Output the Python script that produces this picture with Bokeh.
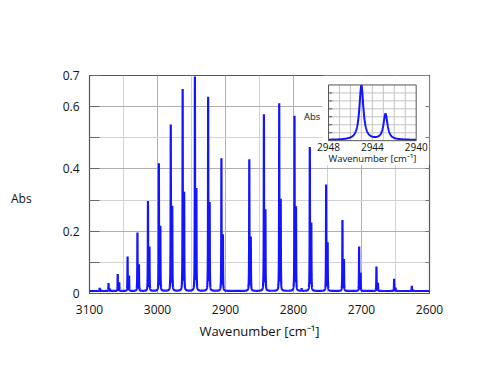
import numpy as np
from bokeh.plotting import figure
from bokeh.models import Range1d, FixedTicker, LinearAxis
from bokeh.embed import file_html
from bokeh.resources import INLINE
from bokeh.core.properties import value

# ---- data (HCl fundamental band) ----
# R branch: line centres (cm-1), H35Cl peak absorbance, H37Cl peak absorbance
r_pos = [3085.0, 3072.0, 3058.5, 3044.0, 3029.5, 3014.0, 2998.0, 2980.5, 2963.0, 2945.0, 2925.5, 2906.0]
r_abs = [0.018, 0.033, 0.062, 0.118, 0.195, 0.295, 0.416, 0.540, 0.653, 0.693, 0.629, 0.432]
r_iso = [0.010, 0.015, 0.035, 0.056, 0.092, 0.148, 0.213, 0.276, 0.320, 0.332, 0.287, 0.186]
# P branch
p_pos = [2865.0, 2843.5, 2821.0, 2798.5, 2776.0, 2752.0, 2728.0, 2703.5, 2678.0, 2652.0, 2626.0]
p_abs = [0.429, 0.573, 0.608, 0.568, 0.468, 0.348, 0.235, 0.150, 0.086, 0.047, 0.024]
p_iso = [0.179, 0.265, 0.298, 0.274, 0.223, 0.161, 0.108, 0.065, 0.033, 0.018, 0.011]
# weak extra feature
other_pos = [2788.0]
other_abs = [0.016]
iso_shift = 2.2       # H37Cl line offset (cm-1)
line_hwhm = 0.22      # half width (cm-1)
baseline = 0.008

x_tick_vals = [3100, 3000, 2900, 2800, 2700, 2600]
x_tick_labels = ["3100", "3000", "2900", "2800", "2700", "2600"]
y_tick_vals = [0, 0.2, 0.4, 0.6, 0.7]
y_tick_labels = ["0", "0.2", "0.4", "0.6", "0.7"]
inset_tick_vals = [2948, 2944, 2940]
inset_tick_labels = ["2948", "2944", "2940"]

# ---- spectrum from the read line list ----
centres = r_pos + p_pos + [c - iso_shift for c in r_pos + p_pos] + other_pos
heights = r_abs + p_abs + r_iso + p_iso + other_abs
centres = np.array(centres)
heights = np.array(heights) - baseline


def spectrum(wn):
    d = wn[:, None] - centres[None, :]
    return baseline + (heights[None, :] * line_hwhm ** 2 / (d ** 2 + line_hwhm ** 2)).sum(axis=1)


wn_main = np.arange(2600.0, 3100.0001, 0.05)
ab_main = spectrum(wn_main)
wn_ins = np.arange(2940.0, 2948.0001, 0.02)
ab_ins = spectrum(wn_ins)

FONT = "Open Sans"
BLUE = "#1414ff"

p = figure(width=484, height=359, x_range=Range1d(3100, 2600), y_range=Range1d(0, 0.7),
           output_backend="svg", toolbar_location=None,
           min_border_left=89, min_border_right=55, min_border_top=75, min_border_bottom=66)
p.background_fill_color = "white"
p.border_fill_color = "white"
p.outline_line_color = "#555555"
p.outline_line_width = 1.2

# x axis
xa = p.xaxis[0]
xa.ticker = FixedTicker(ticks=x_tick_vals)
xa.major_label_overrides = {v: s for v, s in zip(x_tick_vals, x_tick_labels)}
xa.axis_line_color = None
xa.major_tick_line_color = None
xa.minor_tick_line_color = None
xa.major_label_text_font = FONT
xa.major_label_text_font_size = "12px"
xa.major_label_text_color = "#111111"
xa.major_label_standoff = 5
xa.axis_label = "Wavenumber [cm\u207b\u00b9]"
xa.axis_label_text_font = FONT
xa.axis_label_text_font_size = "13px"
xa.axis_label_text_font_style = "normal"
xa.axis_label_text_color = "#111111"
xa.axis_label_standoff = 5

# y axis
ya = p.yaxis[0]
ya.ticker = FixedTicker(ticks=y_tick_vals, minor_ticks=[0.1, 0.3, 0.5])
ya.major_label_overrides = {v: s for v, s in zip(y_tick_vals, y_tick_labels)}
ya.axis_line_color = None
ya.major_tick_in = 10
ya.major_tick_out = 0
ya.minor_tick_in = 10
ya.minor_tick_out = 0
ya.major_tick_line_color = "#666666"
ya.minor_tick_line_color = "#666666"
ya.major_label_text_font = FONT
ya.major_label_text_font_size = "12px"
ya.major_label_text_color = "#111111"
ya.major_label_standoff = 10
# blank lines push the horizontal label below the frame centre, as in the reference
ya.axis_label = "\n\nAbs"
ya.axis_label_orientation = "horizontal"
ya.axis_label_text_font = FONT
ya.axis_label_text_font_size = "12px"
ya.axis_label_text_font_style = "normal"
ya.axis_label_text_color = "#111111"
ya.axis_label_text_line_height = 0.8
ya.axis_label_standoff = 28

ra = LinearAxis(ticker=FixedTicker(ticks=[0.1, 0.2, 0.3, 0.4, 0.5, 0.6]),
                major_label_overrides={v: "" for v in [0.1, 0.2, 0.3, 0.4, 0.5, 0.6]},
                axis_line_color=None, major_tick_in=4, major_tick_out=0,
                major_tick_line_color="#777777", minor_tick_line_color=None)
p.add_layout(ra, "right")

p.xgrid.ticker = FixedTicker(ticks=[3000, 2900, 2800, 2700], minor_ticks=[3050, 2950, 2850, 2750, 2650])
p.xgrid.grid_line_color = "#b0b0b0"
p.xgrid.minor_grid_line_color = "#d2d2d2"
p.ygrid.ticker = FixedTicker(ticks=[0.2, 0.4, 0.6], minor_ticks=[0.1, 0.3, 0.5])
p.ygrid.grid_line_color = "#b0b0b0"
p.ygrid.minor_grid_line_color = "#d2d2d2"

# white panel behind the inset
p.quad(left=[2757], right=[2600], top=[0.7], bottom=[0.413], fill_color="white", line_color=None)

# main spectrum
p.line(wn_main, ab_main, line_color=BLUE, line_width=2.2)

# ---- inset (zoom on the 2944 cm-1 doublet) ----
sub = p.subplot(x_source=Range1d(2948, 2940), y_source=Range1d(0, 0.7),
                x_target=Range1d(2748.5, 2619.6), y_target=Range1d(0.4907, 0.6696))
gx = [2947, 2946, 2945, 2944, 2943, 2942, 2941]
gy = [0.1, 0.2, 0.3, 0.4, 0.5, 0.6]
sub.segment(x0=gx, y0=[0] * len(gx), x1=gx, y1=[0.7] * len(gx), line_color="#c4c4c4", line_width=1)
sub.segment(x0=[2948] * len(gy), y0=gy, x1=[2940] * len(gy), y1=gy, line_color="#c4c4c4", line_width=1)
sub.segment(x0=[2948] * len(gy), y0=gy, x1=[2947.65] * len(gy), y1=gy, line_color="#555555", line_width=1)
sub.line(wn_ins, ab_ins, line_color=BLUE, line_width=2)
sub.quad(left=[2948], right=[2940], top=[0.7], bottom=[0], fill_color=None,
         line_color="#555555", line_width=1)
sub.text(x=inset_tick_vals, y=[-0.085] * 3, text=inset_tick_labels,
         text_align="center", text_baseline="middle", text_font=value(FONT),
         text_font_size="10px", text_color="#111111")
sub.text(x=[2944], y=[-0.22], text=["Wavenumber [cm\u207b\u00b9]"],
         text_align="center", text_baseline="middle", text_font=value(FONT),
         text_font_size="9.5px", text_color="#111111")
sub.text(x=[2948.75], y=[0.31], text=["Abs"],
         text_align="right", text_baseline="middle", text_font=value(FONT),
         text_font_size="9.5px", text_color="#111111")

open("out.html", "w").write(file_html(p, INLINE))
